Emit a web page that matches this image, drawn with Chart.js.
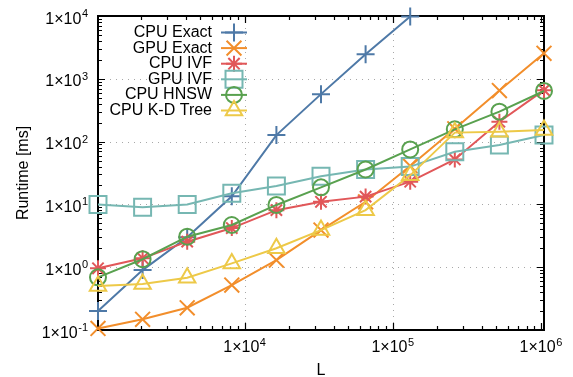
<!DOCTYPE html>
<html>
<head>
<meta charset="utf-8">
<script src="https://cdn.jsdelivr.net/npm/chart.js@4"></script>
<style>
  body { margin: 0; background: #fff; }
  canvas { display: block; }
</style>
</head>
<body>
<canvas id="runtimeChart" width="573" height="377"></canvas>
<script>
// L = 2^10 .. 2^20
const sizes = [1024, 2048, 4096, 8192, 16384, 32768, 65536, 131072, 262144, 524288, 1048576];

const seriesNames = ['CPU Exact', 'GPU Exact', 'CPU IVF', 'GPU IVF', 'CPU HNSW', 'CPU K-D Tree'];

// runtimes in ms
const cpuExact  = [0.2, 0.9, 3.0, 13.5, 127, 570, 2450, 9800];
const gpuExact  = [0.106, 0.148, 0.226, 0.52, 1.3, 3.9, 11, 41, 160, 650, 2550];
const cpuIvf    = [0.96, 1.39, 2.55, 4.2, 8.1, 11, 13.3, 23, 52, 207, 660];
const gpuIvf    = [10, 9, 10, 15, 19.6, 28, 36, 40, 69, 88, 127];
const cpuHnsw   = [0.69, 1.34, 3.06, 4.7, 9.8, 18.7, 36, 75, 157, 300, 640];
const cpuKdTree = [0.5, 0.54, 0.68, 1.15, 2.0, 3.9, 8.1, 29, 139, 144, 153];

const seriesValues = [cpuExact, gpuExact, cpuIvf, gpuIvf, cpuHnsw, cpuKdTree];

// decade tick labels (exponents)
const xExponents = [4, 5, 6];
const yExponents = [-1, 0, 1, 2, 3, 4];

const colors = ['#4e79a7', '#f28e2b', '#e15759', '#76b7b2', '#59a14f', '#edc948'];
const markers = ['cross', 'crossRot', 'star', 'rect', 'circle', 'triangle'];
const markerRadius = [9, 10.5, 8, 12, 8, 9.5];

const FONT = "'Liberation Sans', Arial, Helvetica, sans-serif";

function tickValues(min, max) {
  const out = [];
  for (let d = Math.floor(Math.log10(min)); d <= Math.ceil(Math.log10(max)); d++) {
    for (let k = 1; k <= 9; k++) {
      const v = k * Math.pow(10, d);
      if (v >= min * 0.999 && v <= max * 1.001) out.push({ v, major: k === 1 });
    }
  }
  return out;
}

function drawMarker(ctx, style, r, x, y) {
  if (Chart.helpers && Chart.helpers.drawPoint) {
    Chart.helpers.drawPoint(ctx, { pointStyle: style, radius: r, rotation: 0, borderWidth: 2 }, x, y);
  }
}

// "1x10" with a raised exponent; anchor: 'right' or 'center'
function drawPowerLabel(ctx, exp, x, baseline, anchor) {
  const base = '1\u00D710';
  const sup = exp < 0 ? '-' + Math.abs(exp) : String(exp);
  ctx.font = '16px ' + FONT;
  const wb = ctx.measureText(base).width;
  ctx.font = '11px ' + FONT;
  const ws = ctx.measureText(sup).width;
  const total = wb + ws + 0.5;
  const left = anchor === 'right' ? x - total : x - total / 2;
  ctx.textAlign = 'left';
  ctx.textBaseline = 'alphabetic';
  ctx.font = '16px ' + FONT;
  ctx.fillText(base, left, baseline);
  ctx.font = '11px ' + FONT;
  ctx.fillText(sup, left + wb + 0.5, baseline - 6.5);
}

// border, ticks on all sides, dotted grid, tick labels, legend
const framePlugin = {
  id: 'gnuplotFrame',
  beforeDatasetsDraw(chart) {
    const { ctx, chartArea: a, scales: { x, y } } = chart;
    ctx.save();

    ctx.strokeStyle = '#a8a8a8';
    ctx.lineWidth = 1;
    ctx.setLineDash([1, 5]);
    tickValues(x.min, x.max).filter(t => t.major).forEach(t => {
      const px = Math.round(x.getPixelForValue(t.v)) + 0.5;
      if (px < a.left + 4 || px > a.right - 4) return;
      ctx.beginPath(); ctx.moveTo(px, a.top); ctx.lineTo(px, a.bottom); ctx.stroke();
    });
    tickValues(y.min, y.max).filter(t => t.major).forEach(t => {
      const py = Math.round(y.getPixelForValue(t.v)) + 0.5;
      if (py < a.top + 4 || py > a.bottom - 4) return;
      ctx.beginPath(); ctx.moveTo(a.left, py); ctx.lineTo(a.right, py); ctx.stroke();
    });
    ctx.setLineDash([]);

    ctx.strokeStyle = '#000';
    ctx.lineWidth = 1.2;
    tickValues(x.min, x.max).forEach(t => {
      const px = Math.round(x.getPixelForValue(t.v)) + 0.5;
      const len = t.major ? 7 : 4;
      ctx.beginPath();
      ctx.moveTo(px, a.bottom); ctx.lineTo(px, a.bottom - len);
      ctx.moveTo(px, a.top); ctx.lineTo(px, a.top + len);
      ctx.stroke();
    });
    tickValues(y.min, y.max).forEach(t => {
      const py = Math.round(y.getPixelForValue(t.v)) + 0.5;
      const len = t.major ? 7 : 4;
      ctx.beginPath();
      ctx.moveTo(a.left, py); ctx.lineTo(a.left + len, py);
      ctx.moveTo(a.right, py); ctx.lineTo(a.right - len, py);
      ctx.stroke();
    });

    ctx.lineWidth = 2;
    ctx.strokeRect(a.left, a.top, a.right - a.left, a.bottom - a.top);

    ctx.fillStyle = '#000';
    xExponents.forEach(e => {
      drawPowerLabel(ctx, e, x.getPixelForValue(Math.pow(10, e)), a.bottom + 22, 'center');
    });
    yExponents.forEach(e => {
      drawPowerLabel(ctx, e, a.left - 10, y.getPixelForValue(Math.pow(10, e)) + 7.5, 'right');
    });
    ctx.restore();
  },
  afterDatasetsDraw(chart) {
    const { ctx } = chart;
    ctx.save();
    ctx.font = '16px ' + FONT;
    ctx.textAlign = 'right';
    ctx.textBaseline = 'middle';
    seriesNames.forEach((name, i) => {
      const yy = 32.5 + i * 15.6;
      ctx.fillStyle = '#000';
      ctx.fillText(name, 212, yy);
      ctx.strokeStyle = colors[i];
      ctx.lineWidth = 2;
      ctx.beginPath(); ctx.moveTo(221, yy); ctx.lineTo(247, yy); ctx.stroke();
      ctx.fillStyle = 'rgba(0,0,0,0)';
      drawMarker(ctx, markers[i], markerRadius[i], 234, yy);
    });
    ctx.restore();
  }
};

const datasets = seriesNames.map((name, i) => ({
  label: name,
  data: seriesValues[i].map((v, j) => ({ x: sizes[j], y: v })),
  borderColor: colors[i],
  borderWidth: 2,
  pointStyle: markers[i],
  pointRadius: markerRadius[i],
  pointBorderWidth: 2,
  pointBorderColor: colors[i],
  pointBackgroundColor: 'rgba(0,0,0,0)',
  fill: false,
  tension: 0,
  clip: false,
  order: seriesNames.length - i
}));

new Chart(document.getElementById('runtimeChart'), {
  type: 'line',
  data: { datasets },
  options: {
    responsive: false,
    animation: false,
    layout: { padding: { left: 0, right: 29, top: 16, bottom: 0 } },
    plugins: { legend: { display: false }, tooltip: { enabled: false } },
    scales: {
      x: {
        type: 'logarithmic',
        min: sizes[0],
        max: sizes[sizes.length - 1],
        grid: { display: false },
        border: { display: false },
        ticks: { display: false },
        title: { display: true, text: 'L', color: '#000',
          font: { family: FONT, size: 16, lineHeight: 0.8 }, padding: { top: 0, bottom: 0 } },
        afterFit: s => { s.height = 47; }
      },
      y: {
        type: 'logarithmic',
        min: 0.1,
        max: 10000,
        grid: { display: false },
        border: { display: false },
        ticks: { display: false },
        title: { display: true, text: 'Runtime [ms]', color: '#000',
          font: { family: FONT, size: 16 }, padding: { top: 14, bottom: 0 } },
        afterFit: s => { s.width = 98; }
      }
    }
  },
  plugins: [framePlugin]
});
</script>
</body>
</html>
